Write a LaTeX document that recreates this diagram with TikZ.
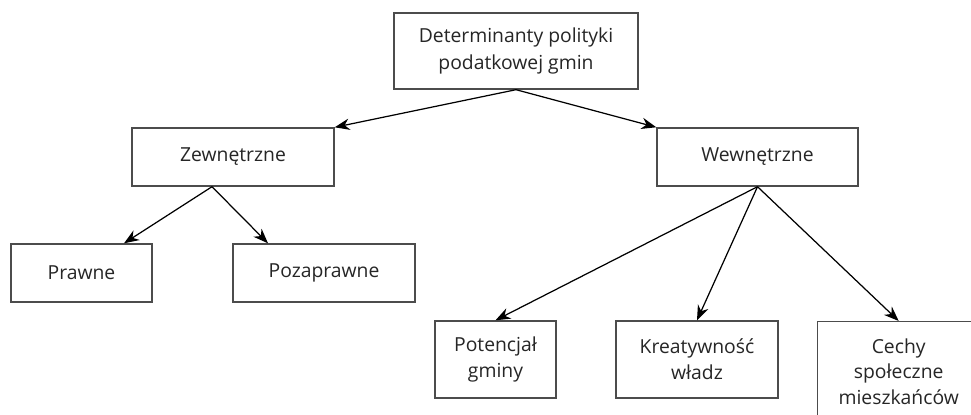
\documentclass[tikz,border=0pt]{standalone}
\usepackage{fontspec}
\setmainfont{Open Sans}
\usetikzlibrary{arrows.meta, positioning}

\begin{document}
\begin{tikzpicture}[
    box/.style={draw=black!70, line width=0.8pt, fill=white, align=center,
        text=black!85, font=\fontsize{11}{15}\selectfont, inner sep=2pt},
    link/.style={-{Stealth[length=8.5pt,width=6.5pt]}, line width=0.7pt, black}]
    % Frame of the picture
    \useasboundingbox (0,0) rectangle (19.42,8.28);

    % Root
    \node[box, minimum width=4.88cm, minimum height=1.52cm] (root) at (10.32,7.26)
        {Determinanty polityki\\podatkowej gmin};

    % Second level
    \node[box, minimum width=4.04cm, minimum height=1.16cm] (zew) at (4.66,5.14) {Zewnętrzne};
    \node[box, minimum width=4.02cm, minimum height=1.16cm] (wew) at (15.15,5.14) {Wewnętrzne};

    % Leaves of Zewnętrzne
    \node[box, minimum width=2.82cm, minimum height=1.16cm] (praw) at (1.63,2.82) {Prawne};
    \node[box, minimum width=3.64cm, minimum height=1.16cm] (poza) at (6.48,2.82) {Pozaprawne};

    % Leaves of Wewnętrzne
    \node[box, minimum width=2.42cm, minimum height=1.54cm] (pot) at (9.91,1.09) {Potencjał\\gminy};
    \node[box, minimum width=3.24cm, minimum height=1.54cm] (kre) at (13.94,1.09) {Kreatywność\\władz};
    \node[box, minimum width=3.24cm, minimum height=2.0cm, anchor=north west,
        font=\fontsize{11}{14.5}\selectfont] (cech) at (16.34,1.86)
        {Cechy\\społeczne\\mieszkańców};

    % Connectors
    \draw[link] (root.south) -- (zew.north east);
    \draw[link] (root.south) -- (wew.north west);
    \draw[link] ([xshift=-0.42cm]zew.south) -- ([xshift=0.85cm]praw.north);
    \draw[link] ([xshift=-0.42cm]zew.south) -- ([xshift=-1.12cm]poza.north);
    \draw[link] (wew.south) -- (pot.north);
    \draw[link] (wew.south) -- (kre.north);
    \draw[link] (wew.south) -- (cech.north);
\end{tikzpicture}
\end{document}
